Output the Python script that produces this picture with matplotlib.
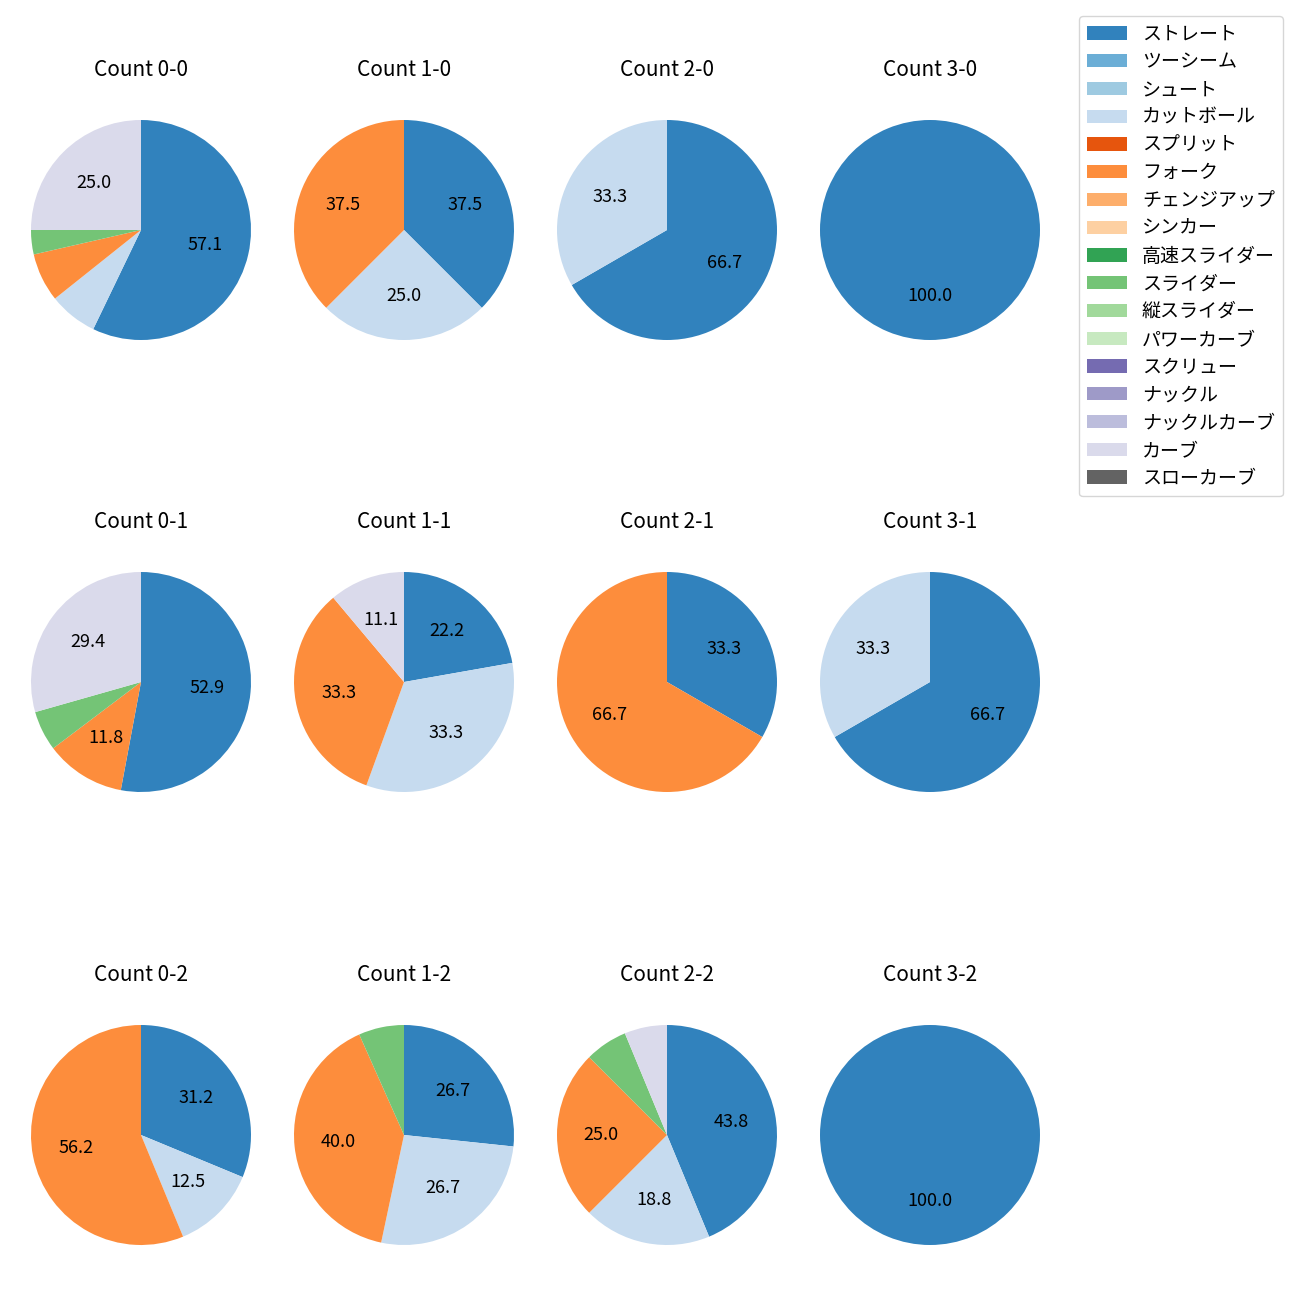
import matplotlib
matplotlib.use("Agg")
import matplotlib.pyplot as plt
from matplotlib.patches import Patch

plt.rcParams['font.family'] = ['Noto Sans CJK JP', 'DejaVu Sans']

pitch_types = ["ストレート", "ツーシーム", "シュート", "カットボール", "スプリット", "フォーク",
               "チェンジアップ", "シンカー", "高速スライダー", "スライダー", "縦スライダー",
               "パワーカーブ", "スクリュー", "ナックル", "ナックルカーブ", "カーブ", "スローカーブ"]
colors = ["#3182bd", "#6baed6", "#9ecae1", "#c6dbef", "#e6550d", "#fd8d3c", "#fdae6b",
          "#fdd0a2", "#31a354", "#74c476", "#a1d99b", "#c7e9c0", "#756bb1", "#9e9ac8",
          "#bcbddc", "#dadaeb", "#636363"]

# pitch counts per count situation (ストレート, カットボール, フォーク, スライダー, カーブ)
count_labels = ["0-0", "1-0", "2-0", "3-0",
                "0-1", "1-1", "2-1", "3-1",
                "0-2", "1-2", "2-2", "3-2"]
straight = [16, 3, 2, 1, 9, 2, 1, 2, 5, 4, 7, 1]
cutball  = [2, 2, 1, 0, 0, 3, 0, 1, 2, 4, 3, 0]
fork     = [2, 3, 0, 0, 2, 3, 2, 0, 9, 6, 4, 0]
slider   = [1, 0, 0, 0, 1, 0, 0, 0, 0, 1, 1, 0]
curve    = [7, 0, 0, 0, 5, 1, 0, 0, 0, 0, 1, 0]

series = {"ストレート": straight, "カットボール": cutball, "フォーク": fork,
          "スライダー": slider, "カーブ": curve}

W = H = 1300
fig = plt.figure(figsize=(13, 13), dpi=100)
col_x = [141, 404, 667, 930]
row_y = [230, 682, 1135]
radius_px = 110
side = radius_px * 2.5

def autopct(p):
    return f"{p:.1f}" if p > 10 else ""

for i, lab in enumerate(count_labels):
    r, c = divmod(i, 4)
    cx, cy = col_x[c], row_y[r]
    ax = fig.add_axes([(cx - side / 2) / W, 1 - (cy + side / 2) / H, side / W, side / H])
    vals, cols = [], []
    for name in pitch_types:
        if name in series and series[name][i] > 0:
            vals.append(series[name][i])
            cols.append(colors[pitch_types.index(name)])
    ax.pie(vals, colors=cols, startangle=90, counterclock=False, autopct=autopct,
           textprops={'fontsize': 13})
    ax.set_xlim(-1.25, 1.25)
    ax.set_ylim(-1.25, 1.25)
    ax.set_title(f"Count {lab}", fontsize=15, pad=12)

handles = [Patch(facecolor=col, label=n) for n, col in zip(pitch_types, colors)]
fig.legend(handles=handles, loc='upper right', bbox_to_anchor=(0.994, 0.995),
           fontsize=13.7, labelspacing=0.355, handlelength=2.1, frameon=True)

fig.savefig("out.png", dpi=100)
